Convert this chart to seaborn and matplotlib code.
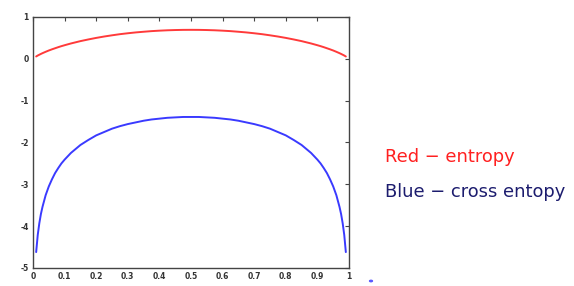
import matplotlib
matplotlib.use("Agg")
import matplotlib.pyplot as plt
import seaborn as sns
import pandas as pd
from matplotlib.patches import Circle

p = [0.01, 0.015, 0.02, 0.025, 0.03, 0.04, 0.05, 0.06, 0.07, 0.08, 0.09, 0.10, 0.12, 0.15,
     0.175, 0.20, 0.225, 0.25, 0.275, 0.30, 0.325, 0.35, 0.375, 0.40, 0.425, 0.45, 0.475, 0.50,
     0.525, 0.55, 0.575, 0.60, 0.625, 0.65, 0.675, 0.70, 0.725, 0.75, 0.775, 0.80, 0.825, 0.85,
     0.88, 0.90, 0.91, 0.92, 0.93, 0.94, 0.95, 0.96, 0.97, 0.975, 0.98, 0.985, 0.99]
entropy = [0.056, 0.079, 0.098, 0.117, 0.135, 0.168, 0.199, 0.227, 0.253, 0.279, 0.303, 0.325,
           0.367, 0.423, 0.463, 0.500, 0.533, 0.562, 0.589, 0.611, 0.631, 0.647, 0.662, 0.673,
           0.682, 0.688, 0.692, 0.693,
           0.692, 0.688, 0.682, 0.673, 0.662, 0.647, 0.631, 0.611, 0.589, 0.562, 0.533, 0.500,
           0.463, 0.423, 0.367, 0.325, 0.303, 0.279, 0.253, 0.227, 0.199, 0.168, 0.135, 0.117,
           0.098, 0.079, 0.056]
cross_entropy = [-4.62, -4.21, -3.93, -3.71, -3.54, -3.26, -3.05, -2.88, -2.73, -2.61, -2.50,
                 -2.41, -2.25, -2.06, -1.94, -1.83, -1.75, -1.67, -1.61, -1.56, -1.52, -1.48,
                 -1.45, -1.43, -1.41, -1.40, -1.39, -1.39,
                 -1.39, -1.40, -1.41, -1.43, -1.45, -1.48, -1.52, -1.56, -1.61, -1.67, -1.75,
                 -1.83, -1.94, -2.06, -2.25, -2.41, -2.50, -2.61, -2.73, -2.88, -3.05, -3.26,
                 -3.54, -3.71, -3.93, -4.21, -4.62]
x_ticks = [0, 0.1, 0.2, 0.3, 0.4, 0.5, 0.6, 0.7, 0.8, 0.9, 1]
x_labels = ["0", "0.1", "0.2", "0.3", "0.4", "0.5", "0.6", "0.7", "0.8", "0.9", "1"]
y_ticks = [-5, -4, -3, -2, -1, 0, 1]
y_labels = ["-5", "-4", "-3", "-2", "-1", "0", "1"]

df = pd.DataFrame({"p": p, "entropy": entropy, "cross": cross_entropy})

sns.set_theme(style="white")
plt.rcParams['font.family'] = ['DejaVu Sans']

fig = plt.figure(figsize=(5.74, 2.86), dpi=100)
ax = fig.add_axes([0.0575, 0.063, 0.5505, 0.8776])

sns.lineplot(data=df, x="p", y="entropy", ax=ax, color="#ff3a3a", linewidth=1.4)
sns.lineplot(data=df, x="p", y="cross", ax=ax, color="#3a3aff", linewidth=1.4)

ax.set_xlim(0, 1)
ax.set_ylim(-5, 1)
ax.set_xticks(x_ticks)
ax.set_xticklabels(x_labels)
ax.set_yticks(y_ticks)
ax.set_yticklabels(y_labels)
ax.set_xlabel("")
ax.set_ylabel("")
for s in ax.spines.values():
    s.set_color("#444444")
    s.set_linewidth(1.0)
ax.tick_params(direction="in", length=3, width=0.8, color="#444444",
               top=True, right=True, labelsize=5.5, labelcolor="#333333", pad=3)
for lab in ax.get_xticklabels() + ax.get_yticklabels():
    lab.set_fontweight("bold")

fig.text(0.671, 0.452, "Red \u2212 entropy", color="#ff2020", fontsize=12.9, va="center")
fig.text(0.671, 0.330, "Blue \u2212 cross entopy", color="#1c1c6e", fontsize=12.9, va="center")

fig.add_artist(Circle((371 / 574, 1 - 281 / 286), 0.0025, transform=fig.transFigure,
                      color="#5a5aff"))

fig.savefig("out.png", dpi=100)
